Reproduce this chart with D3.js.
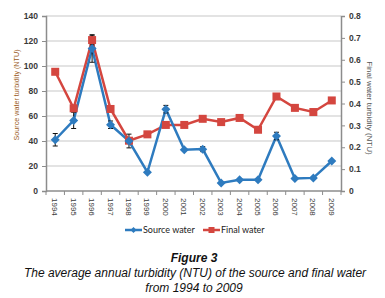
<!DOCTYPE html>
<html><head><meta charset="utf-8">
<script src="https://cdn.jsdelivr.net/npm/d3@7"></script>
<style>body{margin:0;background:#fff}svg{display:block}</style>
</head><body>
<svg id="c" width="385" height="298"></svg>
<script>
const years = ["1994","1995","1996","1997","1998","1999","2000","2001","2002","2003","2004","2005","2006","2007","2008","2009"];
const sourceWater = [41,56.5,114,53,40,15,65.5,33,33.5,6.5,9,9,44,10,10.5,24];
const sourceErr   = [5,6.5,11,3,5.5,0,3,0,2,0,0,0,3,0,0,0];
const finalWater  = [0.545,0.378,0.69,0.375,0.23,0.259,0.302,0.302,0.33,0.315,0.334,0.28,0.432,0.38,0.361,0.414];
const finalErr    = [0,0,0.022,0,0,0,0,0,0,0,0,0,0,0,0,0];
const leftTicks = [0,20,40,60,80,100,120,140];
const rightTicks = [0,0.1,0.2,0.3,0.4,0.5,0.6,0.7,0.8];

const svg = d3.select("#c");
const L=46, R=341, T=16, B=191;
const x = d3.scaleBand().domain(years).range([L,R]);
const yL = d3.scaleLinear().domain([0,140]).range([B,T]);
const yR = d3.scaleLinear().domain([0,0.8]).range([B,T]);
const blue="#2e7bbf", red="#d4463f", axisC="#8c8c8c", txt="#3a3a3a";
const font="'Liberation Sans', Arial, sans-serif";

// grid
svg.append("g").selectAll("line").data(leftTicks.slice(1)).join("line")
  .attr("x1",L).attr("x2",R).attr("y1",d=>yL(d)).attr("y2",d=>yL(d))
  .attr("stroke","#c8c8c8").attr("stroke-width",1.2);

// left axis
const gl = svg.append("g").attr("transform",`translate(${L},0)`)
  .call(d3.axisLeft(yL).tickValues(leftTicks).tickSize(4).tickPadding(4).tickFormat(d3.format("d")));
gl.select(".domain").attr("stroke",axisC).attr("stroke-width",1.5);
gl.selectAll(".tick line").attr("stroke",axisC);
gl.selectAll("text").attr("font-family",font).attr("font-size",8.5).attr("font-weight","bold").attr("fill",txt);

// right axis
const gr = svg.append("g").attr("transform",`translate(${R},0)`)
  .call(d3.axisRight(yR).tickValues(rightTicks).tickSize(4).tickPadding(4).tickFormat(d=>d===0?"0":d3.format(".1f")(d)));
gr.select(".domain").attr("stroke",axisC).attr("stroke-width",1.5);
gr.selectAll(".tick line").attr("stroke",axisC);
gr.selectAll("text").attr("font-family",font).attr("font-size",8.5).attr("font-weight","bold").attr("fill",txt);

// x axis
svg.append("line").attr("x1",L).attr("x2",R).attr("y1",B).attr("y2",B).attr("stroke",axisC).attr("stroke-width",1.5);
const bounds = years.map(d=>x(d)).concat([R]);
svg.append("g").selectAll("line").data(bounds).join("line")
  .attr("x1",d=>d).attr("x2",d=>d).attr("y1",B).attr("y2",B+4).attr("stroke",axisC);
svg.append("g").selectAll("text").data(years).join("text")
  .attr("transform",d=>`translate(${x(d)+x.bandwidth()/2-3},${198}) rotate(90)`)
  .attr("font-family",font).attr("font-size",8).attr("fill",txt).text(d=>d);

// axis titles
svg.append("text").attr("transform",`translate(19,${95}) rotate(-90)`).attr("text-anchor","middle")
  .attr("font-family",font).attr("font-size",7.2).attr("fill","#9a5a1c").text("Source water turbidity (NTU)");
svg.append("text").attr("transform",`translate(367,${108}) rotate(90)`).attr("text-anchor","middle")
  .attr("font-family",font).attr("font-size",8).attr("fill","#555").text("Final water turbidity (NTU)");

const cx = d=>x(d)+x.bandwidth()/2;

// final water series
const fd = years.map((y,i)=>({y, v:finalWater[i], e:finalErr[i]}));
svg.append("path").datum(fd).attr("fill","none").attr("stroke",red).attr("stroke-width",2.5)
  .attr("d",d3.line().x(d=>cx(d.y)).y(d=>yR(d.v)));
// source series
const sd = years.map((y,i)=>({y, v:sourceWater[i], e:sourceErr[i]}));
svg.append("path").datum(sd).attr("fill","none").attr("stroke",blue).attr("stroke-width",2.5)
  .attr("d",d3.line().x(d=>cx(d.y)).y(d=>yL(d.v)));

// error bars
function errs(data, scale){
  const g = svg.append("g").attr("stroke","#111").attr("stroke-width",1);
  data.filter(d=>d.e>0).forEach(d=>{
    const X=cx(d.y), y1=scale(d.v+d.e), y2=scale(d.v-d.e);
    g.append("line").attr("x1",X).attr("x2",X).attr("y1",y1).attr("y2",y2);
    g.append("line").attr("x1",X-2.5).attr("x2",X+2.5).attr("y1",y1).attr("y2",y1);
    g.append("line").attr("x1",X-2.5).attr("x2",X+2.5).attr("y1",y2).attr("y2",y2);
  });
}
errs(sd,yL); errs(fd,yR);

// markers
svg.append("g").selectAll("rect").data(fd).join("rect")
  .attr("x",d=>cx(d.y)-4).attr("y",d=>yR(d.v)-4).attr("width",8).attr("height",8).attr("fill",red);
svg.append("g").selectAll("path").data(sd).join("path")
  .attr("transform",d=>`translate(${cx(d.y)},${yL(d.v)})`)
  .attr("d","M0,-4.5L4.5,0L0,4.5L-4.5,0Z").attr("fill",blue);

// legend
const lg = svg.append("g").attr("font-family","Lato, 'Open Sans', sans-serif").attr("font-size",9).attr("fill","#222");
lg.append("line").attr("x1",125).attr("x2",142).attr("y1",230).attr("y2",230).attr("stroke",blue).attr("stroke-width",2.5);
lg.append("path").attr("transform","translate(133.5,230)").attr("d","M0,-3L3,0L0,3L-3,0Z").attr("fill",blue);
lg.append("text").attr("x",143).attr("y",233).text("Source water");
lg.append("line").attr("x1",203).attr("x2",220).attr("y1",230).attr("y2",230).attr("stroke",red).attr("stroke-width",2.5);
lg.append("rect").attr("x",208.5).attr("y",227).attr("width",6).attr("height",6).attr("fill",red);
lg.append("text").attr("x",221).attr("y",233).text("Final water");

// caption
const cap = svg.append("g").attr("font-family","'Liberation Sans', Arial, sans-serif").attr("font-style","italic").attr("text-anchor","middle").attr("fill","#111");
cap.append("text").attr("x",194).attr("y",262).attr("font-size",12).attr("font-weight","bold").text("Figure 3");
cap.append("text").attr("x",195).attr("y",277).attr("font-size",12).text("The average annual turbidity (NTU) of the source and final water");
cap.append("text").attr("x",194).attr("y",292).attr("font-size",12).text("from 1994 to 2009");
</script>
</body></html>
